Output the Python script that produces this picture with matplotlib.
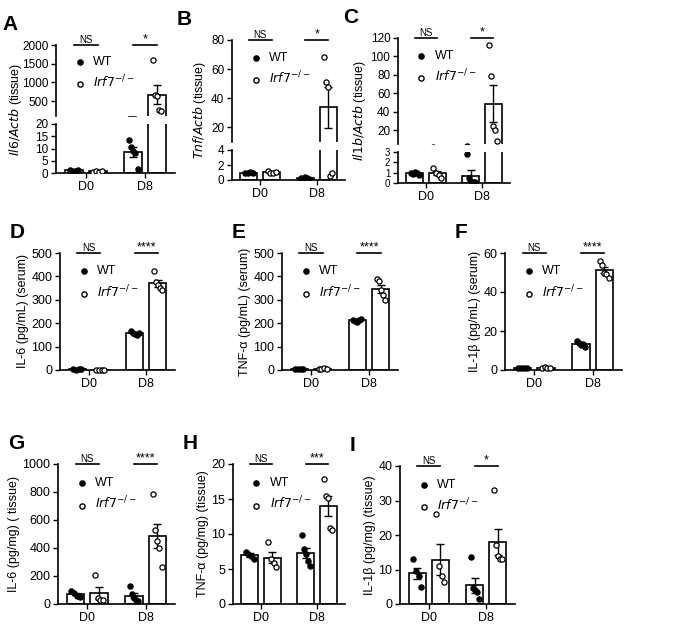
import numpy as np
import matplotlib.pyplot as plt

plt.rcParams["font.family"] = "Liberation Sans"

groups = ["D0", "D8"]

# points per panel: WT D0, KO D0, WT D8, KO D8
a_pts = [[1.2, 1.0, 0.9, 1.1], [0.6, 0.9, 0.5, 0.8], [13.5, 10.5, 9, 8, 1.5], [1600, 650, 630, 250, 230]]
b_pts = [[1.0, 1.0, 1.1, 0.9], [1.2, 1.0, 0.9, 1.1], [0.3, 0.2, 0.4, 0.3, 0.2], [68, 51, 48, 0.5, 1.0]]
c_pts = [[1.0, 0.9, 1.1, 1.0, 0.8], [1.5, 1.0, 0.8, 0.5], [2.8, 0.5, 0.1, 0.1, 0.1], [112, 79, 25, 20, 8]]
d_pts = [[3, 2, 4, 3], [1, 2, 1, 2], [165, 160, 155, 150, 158], [425, 375, 365, 350, 340]]
e_pts = [[5, 3, 4, 6], [3, 5, 7, 6], [215, 210, 205, 212, 218], [390, 380, 340, 320, 300]]
f_pts = [[1, 1.2, 1, 0.9], [1, 1.3, 1.1, 1.2], [15, 14, 13, 13.5, 12], [56, 54, 50, 49, 47]]
g_pts = [[90, 80, 60, 50], [205, 40, 30, 30], [130, 70, 40, 30, 25], [785, 530, 450, 400, 265]]
h_pts = [[7.5, 7.2, 6.8, 6.5], [8.8, 6.5, 5.8, 5.3], [9.8, 7.8, 7.2, 6.2, 5.5], [17.8, 15.5, 15.1, 10.8, 10.6]]
i_pts = [[13, 9.5, 8, 5], [26, 11, 8, 6.5], [13.5, 4.5, 4, 3.5, 1.5], [33, 17, 14, 13, 13]]

W, H = 685, 626
fig = plt.figure(figsize=(W / 100, H / 100), dpi=100)


def box(l, t, r, b):
    return [l / W, 1 - b / H, (r - l) / W, (b - t) / H]


pos = [-0.2, 0.2, 0.8, 1.2]


def draw_data(ax, pts, clip=False):
    for k, p in enumerate(pts):
        p = np.array(p, float)
        m = p.mean()
        se = p.std(ddof=1) / np.sqrt(len(p))
        ax.bar(pos[k], m, width=0.3, color="white", edgecolor="black", lw=1.2, zorder=1)
        ax.errorbar(pos[k], m, yerr=se, color="black", capsize=3, lw=1, zorder=2)
        xs = pos[k] + np.linspace(-0.07, 0.07, len(p))
        fc = "black" if k % 2 == 0 else "white"
        ax.scatter(xs, p, s=14, facecolor=fc, edgecolor="black", lw=0.9, zorder=3, clip_on=clip)


def style(ax, size=9):
    for s in ["top", "right"]:
        ax.spines[s].set_visible(False)
    ax.spines["left"].set_linewidth(1.2)
    ax.spines["bottom"].set_linewidth(1.2)
    ax.set_xlim(-0.5, 1.5)
    ax.tick_params(labelsize=size, width=1, pad=2)


def legend_sig(ax, ytop, sig):
    ax.scatter([], [], s=14, facecolor="black", edgecolor="black", label="WT")
    ax.scatter([], [], s=14, facecolor="white", edgecolor="black", label="$\\it{Irf7}^{-/-}$")
    ax.legend(loc="upper left", bbox_to_anchor=(0.02, 0.97), frameon=False, fontsize=9,
              handletextpad=0.1, borderpad=0.2, labelspacing=0.5)
    for g, s in zip([0, 1], sig):
        ax.plot([g - 0.2, g + 0.2], [ytop, ytop], color="black", lw=1.2, clip_on=False)
        ax.text(g, ytop, s, ha="center", va="bottom", fontsize=7 if s == "NS" else 9)


def simple(l, t, r, b, pts, ymax, step, ylabel, sig, letter):
    ax = fig.add_axes(box(l, t, r, b))
    draw_data(ax, pts)
    style(ax)
    ax.set_ylim(0, ymax)
    ax.set_yticks(np.arange(0, ymax + step / 2, step))
    ax.set_xticks([0, 1], groups)
    ax.set_ylabel(ylabel, fontsize=9, labelpad=2)
    legend_sig(ax, ymax, sig)
    fig.text((l - 50) / W, 1 - (t - 30) / H, letter, fontsize=15, fontweight="bold", va="top")


def broken(l, t, r, brk, b, pts, low, lowticks, high, highticks, ylabel, sig, letter, lab_off, lowsize=8.5):
    up = fig.add_axes(box(l, t, r, brk - 4))
    lo = fig.add_axes(box(l, brk + 4, r, b))
    for ax in (up, lo):
        draw_data(ax, pts, clip=True)
        style(ax, 8.5)
    up.spines["bottom"].set_visible(False)
    up.set_xticks([])
    up.set_ylim(*high)
    up.set_yticks(highticks)
    lo.set_ylim(*low)
    lo.set_yticks(lowticks)
    lo.set_xticks([0, 1], groups)
    lo.tick_params(axis="y", labelsize=lowsize)
    lo.tick_params(axis="x", labelsize=9)
    legend_sig(up, high[1], sig)
    fig.text((l - lab_off) / W, 1 - ((t + b) / 2) / H, ylabel, rotation=90, ha="center", va="center", fontsize=9)
    fig.text(max(l - 55, 2) / W, 1 - (t - 30) / H, letter, fontsize=15, fontweight="bold", va="top")


broken(56, 45, 175, 120, 173, a_pts, (0, 20), [0, 5, 10, 15, 20], (100, 2000), [500, 1000, 1500, 2000],
       "$\\it{Il6/Actb}$ (tissue)", ["NS", "*"], "A", 40)
broken(232, 40, 345, 146, 180, b_pts, (0, 4), [0, 2, 4], (10, 80), [20, 40, 60, 80],
       "$\\it{Tnf/Actb}$ (tissue)", ["NS", "*"], "B", 33)
broken(398, 38, 510, 148, 183, c_pts, (0, 3), [0, 1, 2, 3], (5, 120), [20, 40, 60, 80, 100, 120],
       "$\\it{Il1b/Actb}$ (tissue)", ["NS", "*"], "C", 38, lowsize=7)

simple(60, 253, 175, 370, d_pts, 500, 100, "IL-6 (pg/mL) (serum)", ["NS", "****"], "D")
simple(282, 253, 398, 370, e_pts, 500, 100, "TNF-α (pg/mL) (serum)", ["NS", "****"], "E")
simple(505, 253, 622, 370, f_pts, 60, 20, "IL-1β (pg/mL) (serum)", ["NS", "****"], "F")

simple(58, 464, 175, 604, g_pts, 1000, 200, "IL-6 (pg/mg) ( tissue)", ["NS", "****"], "G")
simple(233, 464, 345, 604, h_pts, 20, 5, "TNF-α (pg/mg) (tissue)", ["NS", "***"], "H")
simple(400, 466, 515, 604, i_pts, 40, 10, "IL-1β (pg/mg) (tissue)", ["NS", "*"], "I")

fig.savefig("out.png", dpi=100)
